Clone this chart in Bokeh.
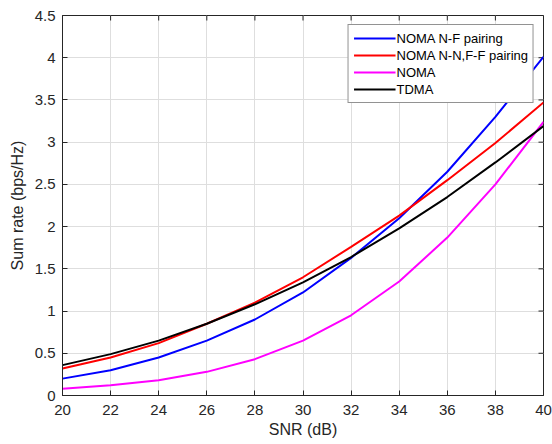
import math
from bokeh.plotting import figure
from bokeh.models import FixedTicker, Range1d, Legend, LegendItem
from bokeh.embed import file_html
from bokeh.resources import INLINE

snr = [20, 22, 24, 26, 28, 30, 32, 34, 36, 38, 40]
noma_nf = [0.20, 0.30, 0.45, 0.65, 0.90, 1.22, 1.63, 2.10, 2.65, 3.30, 4.01]
noma_nnff = [0.32, 0.45, 0.62, 0.85, 1.10, 1.40, 1.76, 2.13, 2.55, 2.99, 3.47]
noma = [0.08, 0.12, 0.18, 0.28, 0.43, 0.65, 0.95, 1.35, 1.87, 2.50, 3.24]
tdma = [0.36, 0.49, 0.65, 0.85, 1.08, 1.34, 1.64, 1.98, 2.35, 2.76, 3.19]

series_names = ["NOMA N-F pairing", "NOMA N-N,F-F pairing", "NOMA", "TDMA"]
series_colors = ["#0000ff", "#ff0000", "#ff00ff", "#000000"]

x_ticks = [20, 22, 24, 26, 28, 30, 32, 34, 36, 38, 40]
y_ticks = [0, 0.5, 1, 1.5, 2, 2.5, 3, 3.5, 4, 4.5]
y_labels = ["0", "0.5", "1", "1.5", "2", "2.5", "3", "3.5", "4", "4.5"]
x_min, x_max = 20, 40
y_min, y_max = 0, 4.5

FONT = "Liberation Sans"
AX = "#262626"

p = figure(frame_width=481, frame_height=380, output_backend="svg", toolbar_location=None,
           x_range=Range1d(x_min, x_max), y_range=Range1d(y_min, y_max),
           min_border_left=62, min_border_right=9, min_border_top=15, min_border_bottom=49)
p.background_fill_color = "white"
p.outline_line_color = AX
p.outline_line_width = 1

p.xaxis.ticker = FixedTicker(ticks=x_ticks)
p.yaxis.ticker = FixedTicker(ticks=y_ticks)
ov = {}
for t, l in zip(y_ticks, y_labels):
    ov[float(t)] = l
    if float(t).is_integer():
        ov[int(t)] = l
p.yaxis.major_label_overrides = ov
p.xaxis.axis_label = "SNR (dB)"
p.yaxis.axis_label = "Sum rate (bps/Hz)"

for ax in [p.xaxis[0], p.yaxis[0]]:
    ax.major_tick_in = 5
    ax.major_tick_out = 0
    ax.minor_tick_in = 0
    ax.minor_tick_out = 0
    ax.axis_line_color = AX
    ax.major_tick_line_color = AX
    ax.major_label_text_font = FONT
    ax.major_label_text_font_size = "15px"
    ax.major_label_text_color = AX
    ax.axis_label_text_font = FONT
    ax.axis_label_text_font_size = "16px"
    ax.axis_label_text_font_style = "normal"
    ax.axis_label_text_color = AX
p.xaxis.major_label_standoff = 9
p.xaxis.axis_label_standoff = 3
p.yaxis.major_label_standoff = 7
p.yaxis.axis_label_standoff = 6

# inward ticks on top and right edges (MATLAB box style)
p.ray(x=x_ticks, y=[y_max] * len(x_ticks), length=5, length_units="screen",
      angle=-math.pi / 2, line_color=AX, line_width=1)
p.ray(x=[x_max] * len(y_ticks), y=y_ticks, length=5, length_units="screen",
      angle=math.pi, line_color=AX, line_width=1)

p.xgrid.grid_line_color = "#dedede"
p.ygrid.grid_line_color = "#dedede"
p.xgrid.ticker = FixedTicker(ticks=x_ticks)
p.ygrid.ticker = FixedTicker(ticks=y_ticks)

items = []
for ys, name, col in zip([noma_nf, noma_nnff, noma, tdma], series_names, series_colors):
    r = p.line(snr, ys, line_color=col, line_width=2)
    items.append(LegendItem(label=name, renderers=[r]))

legend = Legend(items=items, location="top_right")
legend.label_text_font = FONT
legend.label_text_font_size = "13px"
legend.label_text_color = "#000000"
legend.border_line_color = AX
legend.border_line_width = 1
legend.background_fill_alpha = 1
legend.glyph_width = 42
legend.glyph_height = 16
legend.label_height = 16
legend.label_standoff = 1
legend.spacing = 1
legend.padding = 5
legend.margin = 9
p.add_layout(legend)

open("out.html", "w").write(file_html(p, INLINE))
